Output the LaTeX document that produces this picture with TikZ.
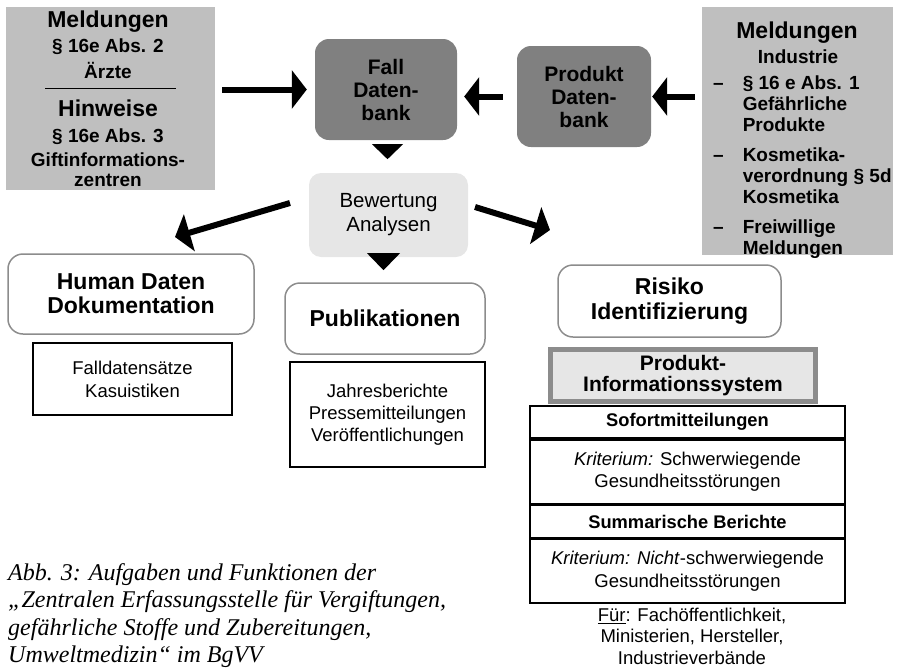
\documentclass[tikz,border=0pt]{standalone}
\usepackage{fontspec}
\setmainfont{Liberation Sans}
\newfontfamily\abbfont{Liberation Serif}
\usetikzlibrary{
  arrows.meta,
  positioning,
  calc
}
\definecolor{grau}{HTML}{BFBFBF}
\definecolor{dunkel}{HTML}{808080}
\definecolor{hell}{HTML}{E6E6E6}
\definecolor{rand}{HTML}{8C8C8C}

\begin{document}
\begin{tikzpicture}[
x=1pt,y=-1pt,
meld/.style={
fill=grau,
inner sep=0pt
},
gross/.style={font=\bfseries\fontsize{23}{25}\selectfont},
mittel/.style={font=\bfseries\fontsize{19}{21}\selectfont},
bank/.style={
rounded corners=14pt,
fill=dunkel,
inner sep=0pt,
align=center,
font=\bfseries\fontsize{21}{23}\selectfont
},
aufgabe/.style={
draw=rand,
line width=1.5pt,
rounded corners=15pt,
inner sep=0pt,
align=center,
font=\bfseries\fontsize{23}{24}\selectfont
},
liste/.style={
draw,
line width=1.2pt,
inner sep=0pt,
align=center,
font=\fontsize{18.5}{23}\selectfont
},
zeile/.style={
draw,
line width=1.8pt,
inner sep=0pt,
minimum width=315pt,
align=center,
font=\fontsize{18.5}{22.5}\selectfont
},
seta/.style={-{Triangle[length=15pt,width=38pt]},line width=6pt}
]
\useasboundingbox (0,0) rectangle (900,667);

\node[meld,minimum width=209pt,minimum height=183pt] (links) at (110.5,98.5) {};
\node[gross] (meldA) at (108,22) {Meldungen};
\node[mittel] (absA) at (108,47) {§ 16e Abs. 2};
\node[mittel] (arzt) at (108,70) {Ärzte};
\draw[line width=1pt] (45,88) coordinate (trennA) -- (176,88) coordinate (trennB);
\node[gross] (hinw) at (108,108) {Hinweise};
\node[mittel] (absB) at (108,137) {§ 16e Abs. 3};
\node[mittel] (gift) at (108,160) {Giftinformations-};
\node[mittel] (zent) at (108,180) {zentren};

\node[bank,minimum width=142pt,minimum height=101pt] (fall) at (386,89.5)
{Fall\\Daten-\\bank};
\node[bank,minimum width=134pt,minimum height=101pt] (prod) at (584,96.5)
{Produkt\\Daten-\\bank};

\node[meld,minimum width=191pt,minimum height=248pt] (rechts) at (797.5,131) {};
\node[gross] (meldB) at (797,33) {Meldungen};
\node[mittel] (indu) at (798,57) {Industrie};
\node[mittel,anchor=west,inner sep=0pt] (punkte) at (713,168)
{\begin{tabular}{@{}l@{\hspace{19pt}}l@{}}
– & § 16 e Abs. 1\\
  & Gefährliche\\
  & Produkte\\[9pt]
– & Kosmetika-\\
  & verordnung § 5d\\
  & Kosmetika\\[9pt]
– & Freiwillige\\
  & Meldungen
\end{tabular}};

\node[fill=hell,rounded corners=12pt,minimum width=159pt,minimum height=84pt,
inner sep=0pt,align=center,font=\fontsize{20.5}{24}\selectfont] (bew) at (388.5,215)
{Bewertung\\Analysen};

\node[aufgabe,minimum width=246pt,minimum height=80pt] (human) at (131,294)
{Human Daten\\Dokumentation};
\node[liste,minimum width=199pt,minimum height=72pt] (fallsatz) at (132.5,379)
{Falldatensätze\\Kasuistiken};

\node[aufgabe,minimum width=200pt,minimum height=71pt] (publ) at (385,318.5)
{Publikationen};
\node[liste,minimum width=195pt,minimum height=105pt,font=\fontsize{18.5}{22}\selectfont] (jahr) at (387.5,414.5)
{Jahresberichte\\Pressemitteilungen\\Veröffentlichungen};

\node[aufgabe,minimum width=223pt,minimum height=72pt,font=\bfseries\fontsize{23}{25}\selectfont] (risk) at (669.5,301)
{Risiko\\Identifizierung};
\node[draw=rand,line width=5pt,fill=hell,minimum width=265pt,minimum height=52pt,
inner sep=0pt,align=center,font=\bfseries\fontsize{21}{21}\selectfont] (pis) at (683,375.5)
{Produkt-\\Informationssystem};

\node[zeile,minimum height=32pt,anchor=north,font=\bfseries\fontsize{18.3}{22}\selectfont] (sofort) at (687.5,405)
{Sofortmitteilungen};
\node[zeile,minimum height=64pt,below=0pt of sofort] (krit1)
{\textit{Kriterium:} Schwerwiegende\\Gesundheitsstörungen};
\node[zeile,minimum height=32pt,below=0pt of krit1,font=\bfseries\fontsize{18.3}{22}\selectfont] (summ)
{Summarische Berichte};
\node[zeile,minimum height=64pt,below=0pt of summ] (krit2)
{\textit{Kriterium: Nicht}-schwerwiegende\\Gesundheitsstörungen};

\node[align=center,inner sep=0pt,font=\fontsize{18.5}{21.5}\selectfont] (fuer) at (692,636)
{\underline{Für}: Fachöffentlichkeit,\\Ministerien, Hersteller,\\Industrieverbände};

\node[anchor=north west,align=left,inner sep=0pt,font=\abbfont\itshape\fontsize{24}{27.5}\selectfont] (abb) at (8,563)
{Abb. 3: Aufgaben und Funktionen der\\
„Zentralen Erfassungsstelle für Vergiftungen,\\
gefährliche Stoffe und Zubereitungen,\\
Umweltmedizin“ im BgVV};

\draw[seta,shorten <=7pt,shorten >=8pt] (links.east |- fall.west) -- (fall.west);
\draw[seta,shorten <=14pt,shorten >=7pt] (prod.west) -- (prod.west -| fall.east);
\draw[seta,shorten <=7pt,shorten >=1pt] (rechts.west |- prod.east) -- (prod.east);

\coordinate (bewL) at (290,203);
\coordinate (humanZ) at (175,237);
\coordinate (bewR) at (475,207);
\coordinate (riskZ) at (550,230);
\draw[seta] (bewL) -- (humanZ);
\draw[seta] (bewR) -- (riskZ);

\fill (fall.south) ++(-14,4) -- ++(31,0) -- ++(-15.5,15) -- cycle;
\fill (bew.south) ++(-21.5,-4) -- ++(33,0) -- ++(-16.5,17) -- cycle;

\end{tikzpicture}
\end{document}
